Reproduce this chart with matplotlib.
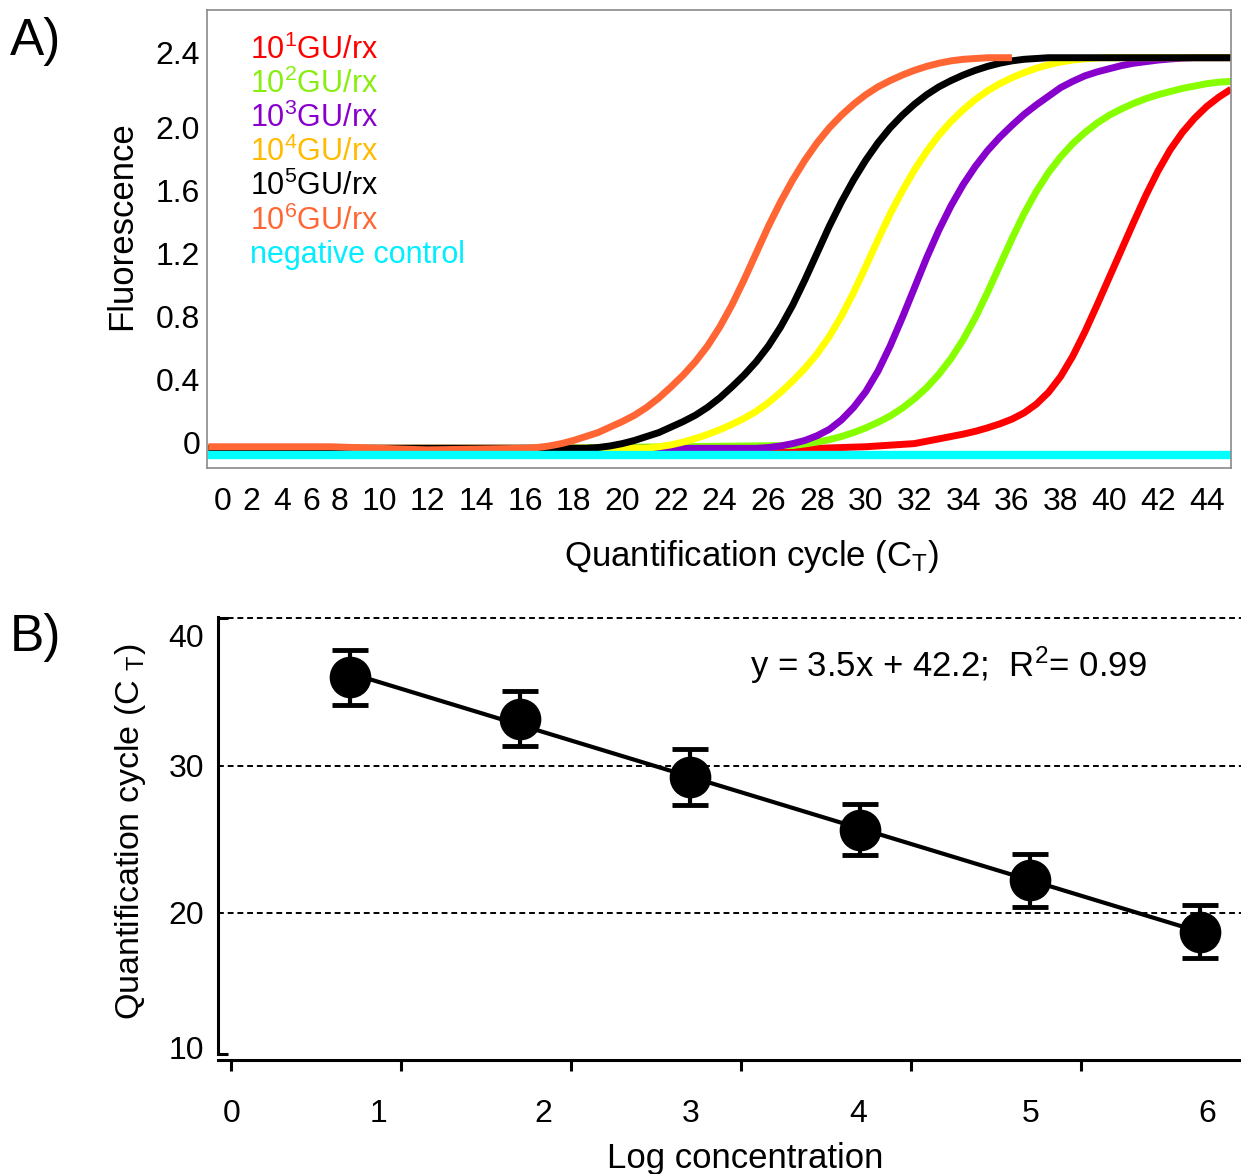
import matplotlib
matplotlib.use("Agg")
import matplotlib.pyplot as plt
import numpy as np

plt.rcParams['font.family'] = ['Liberation Sans', 'DejaVu Sans']
plt.rcParams['mathtext.fontset'] = 'custom'
plt.rcParams['mathtext.rm'] = 'Liberation Sans'
plt.rcParams['mathtext.it'] = 'Liberation Sans:italic'

# Panel A data: amplification curves (cycle, fluorescence)
red_cyc = [3, 16, 28, 30, 32] + list(np.arange(32.5, 45.01, 0.5))
red_val = [-0.04, -0.04, -0.04, -0.03, -0.01,
           0.005, 0.02, 0.035, 0.05, 0.068, 0.09, 0.115, 0.145, 0.185, 0.24, 0.315,
           0.415, 0.545, 0.70, 0.87, 1.045, 1.22, 1.395, 1.565, 1.72, 1.855, 1.965,
           2.055, 2.13, 2.19, 2.24]

green_cyc = [3, 16] + list(np.arange(27, 45.01, 0.5))
green_val = [-0.04, -0.04,
             -0.022, -0.012, 0.0, 0.015, 0.035, 0.06, 0.09, 0.125, 0.165, 0.215,
             0.275, 0.345, 0.43, 0.53, 0.65, 0.79, 0.95, 1.12, 1.29, 1.45, 1.59,
             1.71, 1.81, 1.895, 1.965, 2.025, 2.075, 2.115, 2.15, 2.18, 2.205, 2.225,
             2.245, 2.26, 2.275, 2.285, 2.29]

purple_cyc = [3, 16] + list(np.arange(25, 43.51, 0.5)) + [45]
purple_val = [-0.04, -0.04,
              -0.04, -0.04, -0.035, -0.025, -0.01, 0.01, 0.04, 0.08, 0.14, 0.22, 0.32,
              0.45, 0.61, 0.79, 0.98, 1.17, 1.345, 1.50, 1.635, 1.75, 1.85, 1.935,
              2.01, 2.08, 2.14, 2.195, 2.25, 2.29, 2.325, 2.35, 2.37, 2.39, 2.405,
              2.415, 2.425, 2.432, 2.437, 2.44,
              2.44]

yellow_cyc = [3, 16] + list(np.arange(21, 40.01, 0.5)) + [45]
yellow_val = [-0.04, -0.04,
              -0.04, -0.03, -0.018, 0.0, 0.022, 0.048, 0.078, 0.112, 0.15, 0.195,
              0.25, 0.315, 0.388, 0.468, 0.56, 0.67, 0.80, 0.95, 1.115, 1.285, 1.448,
              1.595, 1.728, 1.845, 1.948, 2.035, 2.11, 2.175, 2.23, 2.275, 2.313,
              2.345, 2.373, 2.395, 2.413, 2.425, 2.433, 2.438, 2.44,
              2.44]

black_cyc = [3, 16] + list(np.arange(18.5, 37.51, 0.5)) + [45]
black_val = [-0.04, -0.04,
             -0.04, -0.035, -0.025, -0.01, 0.01, 0.035, 0.06, 0.095, 0.13, 0.17,
             0.22, 0.28, 0.35, 0.425, 0.51, 0.61, 0.73, 0.87, 1.03, 1.20, 1.37,
             1.525, 1.665, 1.79, 1.90, 1.995, 2.075, 2.145, 2.205, 2.255, 2.295,
             2.33, 2.36, 2.385, 2.405, 2.42, 2.43, 2.435, 2.44,
             2.44]

orange_cyc = [3, 8, 12] + list(np.arange(16, 36.01, 0.5))
orange_val = [-0.03, -0.03, -0.05,
              -0.04, -0.035, -0.025, -0.01, 0.01, 0.035, 0.06, 0.095, 0.13, 0.17,
              0.22, 0.28, 0.35, 0.425, 0.51, 0.61, 0.73, 0.87, 1.03, 1.20, 1.37,
              1.525, 1.665, 1.79, 1.90, 1.995, 2.075, 2.145, 2.205, 2.255, 2.295,
              2.33, 2.36, 2.385, 2.405, 2.42, 2.43, 2.435, 2.44, 2.44, 2.44]

neg_cyc = [3, 45]
neg_val = [-0.085, -0.085]

labels_a = [r'10$^{\mathregular{1}}$GU/rx', r'10$^{\mathregular{2}}$GU/rx',
            r'10$^{\mathregular{3}}$GU/rx', r'10$^{\mathregular{4}}$GU/rx',
            r'10$^{\mathregular{5}}$GU/rx', r'10$^{\mathregular{6}}$GU/rx',
            'negative control']
label_colors = ['#ff0000', '#88ee11', '#8800cc', '#ffbb00', '#000000', '#ff6633', '#00eeff']

a_xtick_labels = ['0', '2', '4', '6', '8', '10', '12', '14', '16', '18', '20', '22',
                  '24', '26', '28', '30', '32', '34', '36', '38', '40', '42', '44']
a_ytick_labels = ['0', '0.4', '0.8', '1.2', '1.6', '2.0', '2.4']

# Panel B data: standard curve
log_conc = [1, 2, 3, 4, 5, 6]
ct_mean = [36.0, 33.2, 29.2, 25.65, 22.2, 18.7]
ct_err = [1.85, 1.85, 1.9, 1.75, 1.8, 1.8]
b_xtick_labels = ['0', '1', '2', '3', '4', '5', '6']
b_ytick_labels = ['10', '20', '30', '40']

fig = plt.figure(figsize=(12.41, 11.74), dpi=100)

# ---- Panel A ----
ax = fig.add_axes([207 / 1241, 1 - 468 / 1174, 1024 / 1241, 458 / 1174])
curves = [(red_cyc, red_val, '#ff0000'), (green_cyc, green_val, '#88ff00'),
          (purple_cyc, purple_val, '#8800cc'), (yellow_cyc, yellow_val, '#ffff00'),
          (black_cyc, black_val, '#000000'), (orange_cyc, orange_val, '#ff6633'),
          (neg_cyc, neg_val, '#00ffff')]
for cyc, val, col in curves:
    lw = 6 if col == '#00ffff' else 5
    ax.plot(cyc, val, color=col, lw=lw, solid_capstyle='butt', solid_joinstyle='round')

ax.set_xlim(2.94, 45)
ax.set_ylim(-0.165, 2.743)
ax.set_xticks([3.59, 4.78, 6.02, 7.21, 8.40] + list(range(10, 45, 2)))
ax.set_xticklabels(a_xtick_labels)
ax.set_yticks([0, 0.4, 0.8, 1.2, 1.6, 2.0, 2.47])
ax.set_yticklabels(a_ytick_labels)
ax.tick_params(axis='x', length=0, pad=14, labelsize=23)
ax.tick_params(axis='y', length=0, pad=5, labelsize=23)
for sp in ax.spines.values():
    sp.set_color('#8a8a8a')
    sp.set_linewidth(1.2)
ax.set_xlabel(r'Quantification cycle (C$_{\mathregular{T}}$)', fontsize=25)
ax.xaxis.set_label_coords(0.532, -0.152)
ax.set_ylabel('Fluorescence', fontsize=25)
ax.yaxis.set_label_coords(-0.067, 0.53)

for i, (lab, col) in enumerate(zip(labels_a, label_colors)):
    ax.text(0.042, 0.912 - i * 0.0745, lab, color=col, fontsize=22,
            transform=ax.transAxes, va='center', ha='left')

fig.text(10 / 1241, 1 - 42 / 1174, 'A)', fontsize=37, va='center', ha='left')

# ---- Panel B ----
bx = fig.add_axes([218 / 1241, 1 - 1060 / 1174, 1023 / 1241, 443 / 1174])
for lvl in [20, 30, 40]:
    bx.axhline(lvl, color='black', lw=1.4, ls=(0, (3, 2)), zorder=1)

slope, icpt = np.polyfit(log_conc, ct_mean, 1)
fit_x = np.array([log_conc[0], log_conc[-1]])
bx.plot(fit_x, slope * fit_x + icpt, color='black', lw=3, zorder=2)
bx.errorbar(log_conc, ct_mean, yerr=ct_err, fmt='o', color='black', ms=29,
            elinewidth=3, capsize=13, capthick=3.5, zorder=3)

bx.set_xlim(0.2235, 6.241)
bx.set_ylim(10, 40.1)
bx.spines['top'].set_visible(False)
bx.spines['right'].set_visible(False)
bx.spines['left'].set_linewidth(2.2)
bx.spines['bottom'].set_linewidth(2.2)
bx.spines['left'].set_bounds(10.4, 40.1)

bx.set_xticks([0.306, 1.17, 2.135, 3.006, 3.99, 5.006, 6.04])
bx.set_xticklabels(b_xtick_labels)
bx.set_xticks([0.3, 1.3, 2.3, 3.3, 4.3, 5.3], minor=True)
bx.tick_params(axis='x', which='major', length=0, pad=28, labelsize=23)
bx.tick_params(axis='x', which='minor', length=8, width=2.2, direction='out')
bx.set_yticks([10.82, 20, 30, 38.84])
bx.set_yticklabels(b_ytick_labels)
bx.set_yticks([10.4, 20, 30, 40], minor=True)
bx.tick_params(axis='y', which='major', length=0, pad=10, labelsize=23)
bx.tick_params(axis='y', which='minor', length=7, width=2.2, direction='in')

bx.set_xlabel('Log concentration', fontsize=25)
bx.xaxis.set_label_coords(0.515, -0.185)
bx.set_ylabel(r'Quantification cycle (C $_{\mathregular{T}}$)', fontsize=24.5)
bx.yaxis.set_label_coords(-0.068, 0.516)

bx.text(4.52, 36.8, r'y = 3.5x + 42.2;  R$^{\mathregular{2}}$= 0.99', fontsize=25,
        ha='center', va='center')

fig.text(10 / 1241, 1 - 637 / 1174, 'B)', fontsize=37, va='center', ha='left')

fig.savefig('out.png', dpi=100)
